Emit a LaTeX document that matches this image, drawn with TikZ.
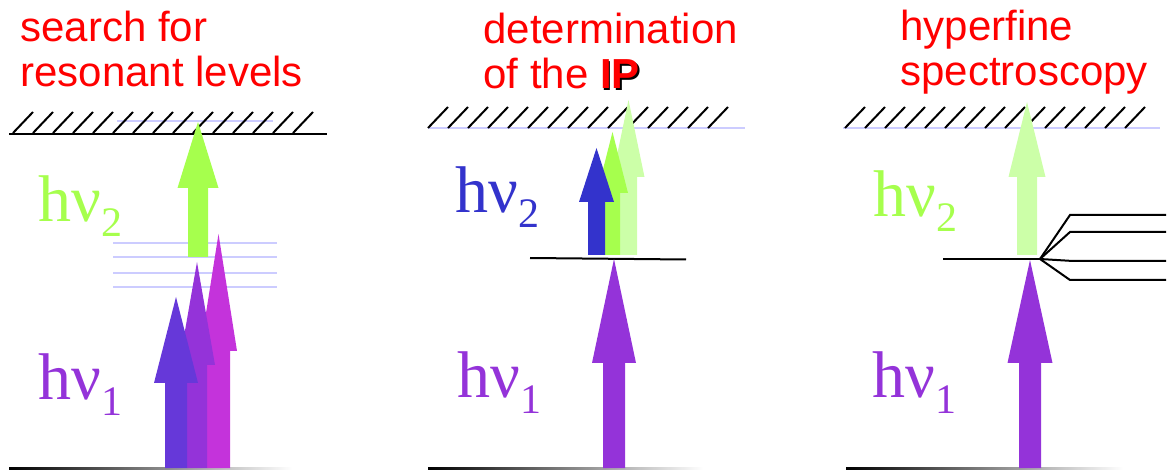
\documentclass[tikz,border=0pt]{standalone}
\usepackage{fontspec}
\setmainfont{Liberation Sans}
\newfontfamily\hnufont{Liberation Serif}
\usetikzlibrary{positioning}

\definecolor{laserred}{RGB}{255,0,0}
\definecolor{lasergreen}{RGB}{166,255,77}
\definecolor{palegreen}{RGB}{204,255,168}
\definecolor{laserblue}{RGB}{51,51,204}
\definecolor{bluevio}{RGB}{102,56,217}
\definecolor{laserpurple}{RGB}{148,51,217}
\definecolor{lasermag}{RGB}{196,51,219}
\definecolor{levelblue}{RGB}{204,204,255}

% fat photon arrow: colour, centre x, shaft half width, head half width, bottom y, head base y, tip y
\newcommand{\photon}[7]{%
  \fill[#1] ({#2-#3},#5) -- ({#2-#3},#6) -- ({#2-#4},#6) -- (#2,#7)
    -- ({#2+#4},#6) -- ({#2+#3},#6) -- ({#2+#3},#5) -- cycle;}

\begin{document}
\begin{tikzpicture}[
  x=0.5pt, y=-0.5pt,
  title/.style={anchor=base west, align=left, text=laserred, inner sep=0pt,
    font=\fontsize{21}{22.5}\selectfont},
  hnu/.style={anchor=base west, inner sep=0pt, font=\hnufont\fontsize{33}{33}\selectfont},
  hatch/.style={line width=1pt},
  level/.style={line width=1pt},
  faint/.style={levelblue, line width=1.2pt},
]
\useasboundingbox (0,0) rectangle (1168,470);

% titles (anchored at the baseline of the second line)
\node[title] (t1) at (20,87) {search for\\resonant levels};
\node[title] (t2) at (483,89) {determination\\of the
  \makebox[0pt][l]{\kern0.8pt\raisebox{-0.8pt}{\color{black}\bfseries IP}}\textbf{IP}};
\node[title] (t3) at (900,86) {hyperfine\\spectroscopy};

% --- ionisation limits with hatching ---
\draw[faint] (117,121) -- (273,121);
\foreach \x in {13,33,...,293} \draw[hatch] (\x,133) -- ++(20,-21);
\draw[level] (9,134) -- (327,134);

\draw[faint] (428,128) -- (745,128);
\foreach \x in {428,448,...,708} \draw[hatch] (\x,128) -- ++(20,-21);

\draw[faint] (843,128) -- (1160,128);
\foreach \x in {845,865,...,1125} \draw[hatch] (\x,128) -- ++(20,-21);

% --- ground states ---
\foreach \a/\b in {9/292, 428/703, 846/1123}
  \shade[left color=black, middle color=black!55, right color=white] (\a,467) rectangle (\b,469.5);

% --- panel 1: scan over resonant levels ---
\foreach \y in {243,257,273,287} \draw[faint] (113,\y) -- (277,\y);
\photon{lasermag}{218.5}{11.5}{18.5}{468}{351}{234}
\photon{laserpurple}{197}{10}{18}{468}{365}{262}
\photon{bluevio}{176}{11}{22}{468}{383}{297}
\photon{lasergreen}{198}{10}{20.5}{257}{188}{122}

\node[hnu, text=lasergreen] (h2a) at (38,222) {hν\raisebox{-7.5pt}{\fontsize{21}{21}\selectfont 2}};
\node[hnu, text=laserpurple] (h1a) at (38,400) {hν\raisebox{-8pt}{\fontsize{21}{21}\selectfont 1}};

% --- panel 2: ionisation potential ---
\draw[level] (530,258) -- (686,259.5);
\photon{palegreen}{628.5}{8.5}{16}{255}{177}{100}
\photon{lasergreen}{612.5}{7.5}{15.5}{255}{193}{132}
\photon{laserblue}{596.5}{8.5}{17.5}{255}{202}{148}
\photon{laserpurple}{614}{11}{22}{468}{363}{259}

\node[hnu, text=laserblue] (h2b) at (455,213) {hν\raisebox{-7.5pt}{\fontsize{21}{21}\selectfont 2}};
\node[hnu, text=laserpurple] (h1b) at (457,398) {hν\raisebox{-8pt}{\fontsize{21}{21}\selectfont 1}};

% --- panel 3: hyperfine splitting ---
\photon{palegreen}{1027}{10}{18.5}{255}{177}{102}
\photon{laserpurple}{1030}{11}{22.5}{468}{363}{260}
\coordinate (split) at (1040,259);
\draw[level] (943,259) -- (split);
\draw[level] (split) -- (1070,215) -- (1166,215);
\draw[level] (split) -- (1070,232) -- (1166,232);
\draw[level] (split) -- (1073,261) -- (1166,261);
\draw[level] (split) -- (1070,280) -- (1166,280);

\node[hnu, text=lasergreen] (h2c) at (873,217) {hν\raisebox{-7.5pt}{\fontsize{21}{21}\selectfont 2}};
\node[hnu, text=laserpurple] (h1c) at (872,398) {hν\raisebox{-8pt}{\fontsize{21}{21}\selectfont 1}};
\end{tikzpicture}
\end{document}
